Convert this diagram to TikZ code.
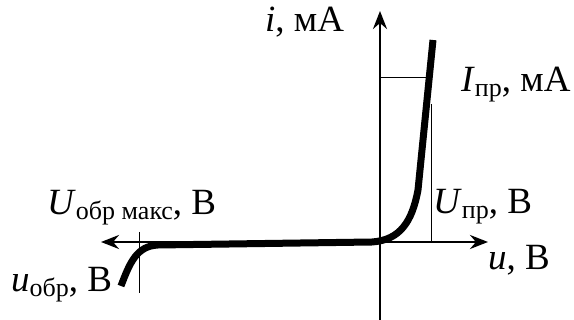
\documentclass[tikz,border=0pt]{standalone}
\usepackage{fontspec}
\setmainfont{Liberation Serif}
\usetikzlibrary{arrows.meta}

\newcommand{\lsub}[1]{\raisebox{-5pt}{\fontsize{26}{26}\selectfont #1}}

\begin{document}
\begin{tikzpicture}[x=1pt,y=-1pt,
        axis/.style={line width=2.8pt,-{Stealth[length=18pt,width=14pt,inset=6pt]}},
        thin/.style={line width=0.9pt},
        curve/.style={line width=7pt},
        lbl/.style={inner sep=0pt,anchor=base west,font=\fontsize{37}{44}\selectfont}]
        \useasboundingbox (0,0) rectangle (574,320);

        \coordinate (O) at (380,242);
        \coordinate (uR) at (488,242);
        \coordinate (uL) at (101,242);
        \coordinate (iT) at (380,11);
        \coordinate (iB) at (380,320);

        \coordinate (Ipr) at (380,77);
        \coordinate (IprC) at (428,77);
        \coordinate (UprC) at (431,104);
        \coordinate (Upr) at (431,242);
        \coordinate (UmT) at (139,232);
        \coordinate (UmB) at (139,293);

        \node[lbl] (i) at (265,32) {\textit{i}, мА};
        \node[lbl] (u) at (488,270) {\textit{u}, В};
        \node[lbl] (ipr) at (461,92) {\textit{I}\lsub{пр}, мА};
        \node[lbl] (upr) at (433,214) {\textit{U}\lsub{пр}, В};
        \node[lbl] (umax) at (47,215) {\textit{U}\lsub{обр макс}, В};
        \node[lbl] (uobr) at (11,292) {\textit{u}\lsub{обр}, В};

        \draw[thin] (Ipr) -- (IprC);
        \draw[thin] (UprC) -- (Upr);
        \draw[thin] (UmT) -- (UmB);

        \draw[axis] (iB) -- (iT);
        \draw[axis,{Stealth[length=18pt,width=14pt,inset=6pt]}-{Stealth[length=18pt,width=14pt,inset=6pt]}] (uL) -- (uR);

        % vah
        \draw[curve] (121,286) .. controls (130,262) and (137,246) .. (158,245)
            -- (372,242) .. controls (400,240) and (412,222) .. (418,190) -- (433,40);
\end{tikzpicture}
\end{document}
